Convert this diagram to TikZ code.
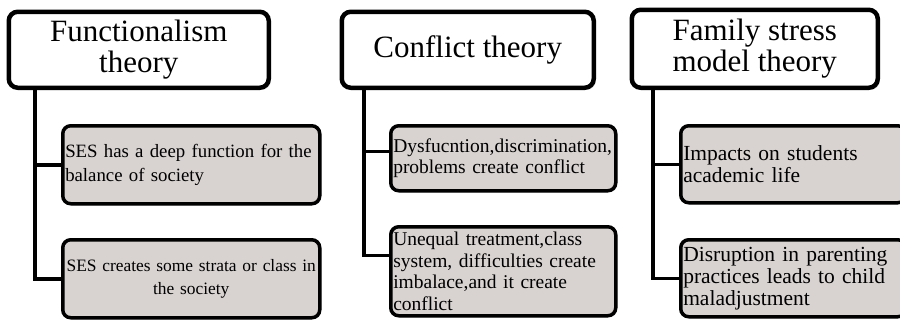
\documentclass[tikz,border=0pt]{standalone}
\usepackage{fontspec}
\setmainfont{Liberation Serif}
\usetikzlibrary{shadows}
\definecolor{boxgray}{RGB}{216,211,209}
\begin{document}
\begin{tikzpicture}[x=1pt,y=-1pt,
  titlebox/.style={draw=black, line width=4.5pt, rounded corners=9pt, fill=white,
    align=center, inner sep=0pt, anchor=north west,
    font=\fontsize{31}{31}\selectfont,
    drop shadow={opacity=0.35, shadow xshift=2pt, shadow yshift=-2pt}},
  itembox/.style={draw=black, line width=3.5pt, rounded corners=8pt, fill=boxgray,
    inner sep=2.5pt, anchor=north west,
    drop shadow={opacity=0.35, shadow xshift=1.5pt, shadow yshift=-1.5pt}},
  link/.style={line width=3.5pt}]
\useasboundingbox (0,0) rectangle (900,325);

% titles
\node[titlebox, minimum width=260pt, minimum height=76pt] (t1) at (6.5,9.5) {Functionalism\\theory};
\node[titlebox, minimum width=252pt, minimum height=76pt] (t2) at (339.5,9.5) {Conflict theory};
\node[titlebox, minimum width=246pt, minimum height=78pt] (t3) at (629.5,7.5) {Family stress\\model theory};

% functionalism items
\node[itembox, text width=252pt, minimum height=78pt, align=left,
  font=\fontsize{18.8}{24}\selectfont] (f1) at (61,124)
  {\mbox{SES has a deep function for the}\\\mbox{balance of society}};
\node[itembox, text width=252pt, minimum height=78pt, align=center,
  font=\fontsize{17.4}{23}\selectfont] (f2) at (61,238)
  {\mbox{SES creates some strata or class in}\\\mbox{the society}};

% conflict items
\node[itembox, text width=220pt, minimum height=65pt, align=left,
  font=\fontsize{19.5}{21.5}\selectfont] (c1) at (389,124)
  {\mbox{Dysfucntion,discrimination,}\\\mbox{problems create conflict}};
\node[itembox, text width=220pt, minimum height=89pt, align=left,
  font=\fontsize{19.5}{21.5}\selectfont] (c2) at (389,225)
  {\mbox{Unequal treatment,class}\\\mbox{system, difficulties create}\\\mbox{imbalace,and it create}\\\mbox{conflict}};

% family items
\node[itembox, text width=220pt, minimum height=77pt, align=left,
  font=\fontsize{21.5}{22}\selectfont] (s1) at (679,124)
  {\mbox{Impacts on students}\\\mbox{academic life}};
\node[itembox, text width=220pt, minimum height=77pt, align=left,
  font=\fontsize{21.5}{22}\selectfont] (s2) at (679,238)
  {\mbox{Disruption in parenting}\\\mbox{practices leads to child}\\\mbox{maladjustment}};

% trunks
\coordinate (ft) at (35,0);
\coordinate (ct) at (364,0);
\coordinate (st) at (653,0);

\draw[link] (ft |- t1.south) |- (f1.west);
\draw[link] (ft |- t1.south) |- (f2.west);
\draw[link] (ct |- t2.south) |- ([yshift=7pt]c1.west);
\draw[link] (ct |- t2.south) |- ([yshift=16pt]c2.west);
\draw[link] (st |- t3.south) |- (s1.west);
\draw[link] (st |- t3.south) |- (s2.west);
\end{tikzpicture}
\end{document}
